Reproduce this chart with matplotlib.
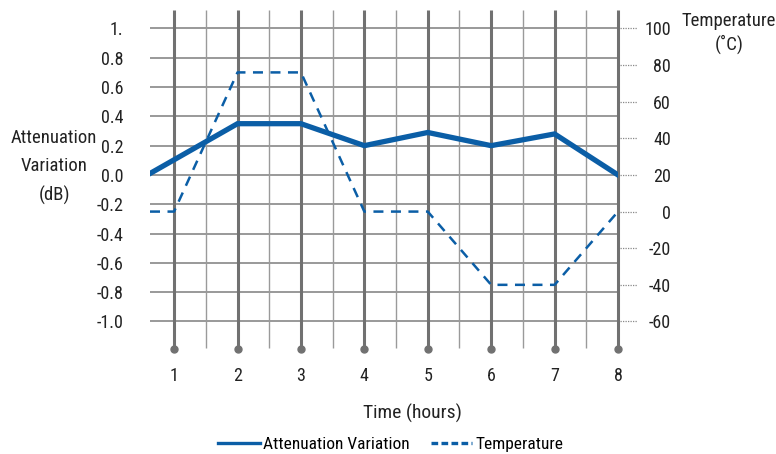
import numpy as np
import matplotlib
matplotlib.use('Agg')
import matplotlib.pyplot as plt
import matplotlib.transforms as mtransforms

plt.rcParams['font.family'] = ['Liberation Sans Narrow', 'Roboto Condensed', 'DejaVu Sans']

# Datos
horas = [1, 2, 3, 4, 5, 6, 7, 8]
t_aten = [0.62, 2, 3, 4, 5, 6, 7, 8]
atenuacion = [0.01, 0.35, 0.35, 0.20, 0.29, 0.20, 0.28, 0.00]
t_temp = [0.62, 1, 2, 3, 4, 5, 6, 7, 8]
temperatura = [0, 0, 76, 76, 0, 0, -40, -40, 0]
ticks_izq = [1.0, 0.8, 0.6, 0.4, 0.2, 0.0, -0.2, -0.4, -0.6, -0.8, -1.0]
etiq_izq = ['1.', '0.8', '0.6', '0.4', '0.2', '0.0', '-0.2', '-0.4', '-0.6', '-0.8', '-1.0']
ticks_der = [100, 80, 60, 40, 20, 0, -20, -40, -60]

azul = '#0b5ea6'
gris = '#717171'
texto = '#222222'

fig = plt.figure(figsize=(7.76, 4.54), dpi=100)
ax = fig.add_axes([150/776, 1 - 349/454, 468/776, 339/454])
y_min, y_max = -1.188, 1.126
ax.set_xlim(0.62, 8)
ax.set_ylim(y_min, y_max)
for s in ax.spines.values():
    s.set_visible(False)

# Rejilla horizontal
for t in ticks_izq:
    ax.axhline(t, color='#7d7d7d', lw=1.1, zorder=1)

# Lineas verticales menores y mayores
for h in np.arange(1.5, 8, 1.0):
    ax.vlines(h, y_min + 0.01, y_max, color='#9a9a9a', lw=1.0, zorder=1)
ax.vlines(horas, y_min, y_max, color=gris, lw=2.2, zorder=2, clip_on=False)
ax.plot(horas, [y_min] * len(horas), 'o', color=gris, ms=5, zorder=3, clip_on=False)

# Series
ax.plot(t_aten, atenuacion, color=azul, lw=3.8, solid_joinstyle='miter', zorder=5)
ax2 = ax.twinx()
for s in ax2.spines.values():
    s.set_visible(False)
ax2.set_ylim(20 + 80 * y_min, 20 + 80 * y_max)
ax2.plot(t_temp, temperatura, color=azul, lw=1.8, ls=(0, (4, 3)), zorder=5)

# Ejes
ax.set_yticks(ticks_izq)
ax.set_yticklabels(etiq_izq, fontsize=13, color=texto)
ax.tick_params(axis='y', length=0, pad=19)
ax.set_xticks(horas)
ax.set_xticklabels([str(h) for h in horas], fontsize=13, color=texto)
ax.tick_params(axis='x', length=0, pad=13)

ax2.set_yticks(ticks_der)
ax2.set_yticklabels([str(t) for t in ticks_der], fontsize=13, color=texto, ha='right')
ax2.tick_params(axis='y', length=0, pad=38)
trans = mtransforms.blended_transform_factory(ax2.transAxes, ax2.transData)
for t in ticks_der:
    ax2.plot([1.004, 1.04], [t, t], transform=trans, color='#888888', lw=0.9,
             ls=(0, (1, 1)), clip_on=False)

# Titulos
fig.text(54/776, 1 - 167/454, 'Attenuation\nVariation\n(dB)', ha='center', va='center',
         fontsize=13.5, linespacing=1.75, color=texto)
fig.text(729/776, 1 - 33/454, 'Temperature\n(˚C)', ha='center', va='center',
         fontsize=13.5, linespacing=1.35, color=texto)
fig.text(412/776, 1 - 413/454, 'Time (hours)', ha='center', va='center',
         fontsize=14, color=texto)

# Leyenda
h1, = ax.plot([], [], color=azul, lw=2.4)
h2, = ax.plot([], [], color=azul, lw=2.4, ls=(0, (2.0, 1.0)))
fig.legend([h1, h2], ['Attenuation Variation', 'Temperature'], loc='center',
           bbox_to_anchor=(391/776, 1 - 444/454), ncol=2, frameon=False, fontsize=12.5,
           handlelength=2.4, handletextpad=0.2, columnspacing=1.2, borderpad=0)

fig.savefig('out.png', dpi=100)
